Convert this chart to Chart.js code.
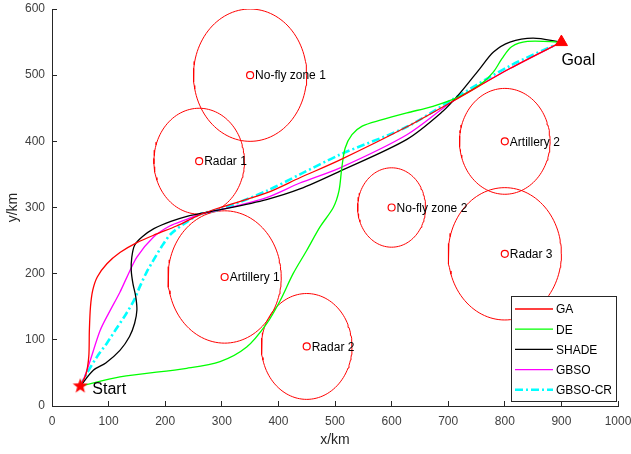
<!DOCTYPE html>
<html>
<head>
<meta charset="utf-8">
<script src="https://cdn.jsdelivr.net/npm/chart.js@4.4.1/dist/chart.umd.min.js"></script>
<style>
body { margin: 0; background: #fff; }
#wrap { width: 631px; height: 454px; }
</style>
</head>
<body>
<div id="wrap"><canvas id="path-chart"></canvas></div>
<script>
// threat areas: centre (km) and radius (km)
const threatNames = ['No-fly zone 1', 'Radar 1', 'Artillery 1', 'Radar 2', 'No-fly zone 2', 'Artillery 2', 'Radar 3']
const threatX = [350, 260, 305, 450, 600, 800, 800]
const threatY = [500, 370, 195, 90, 300, 400, 230]
const threatR = [100, 80, 100, 80, 60, 80, 100]

const startPoint = [50, 30]
const goalPoint = [900, 550]

const xTicks = [0, 100, 200, 300, 400, 500, 600, 700, 800, 900, 1000]
const yTicks = [0, 100, 200, 300, 400, 500, 600]

const seriesNames = ['GA', 'DE', 'SHADE', 'GBSO', 'GBSO-CR']

// planned paths as [x, y] km
const gaPath = [[50, 30], [60, 48], [65, 75], [66, 114], [68, 150], [72, 175], [80, 195], [97, 215], [120, 232],
	[150, 247], [185, 260], [220, 272], [261, 289], [297, 300], [379, 322], [438, 345], [509, 372],
	[627, 422], [709, 461], [809, 510], [900, 550]]
const dePath = [[50, 30], [120, 44], [238, 57], [297, 67], [344, 89], [379, 124], [403, 159], [426, 200],
	[450, 235], [473, 270], [497, 300], [507, 325], [512, 360], [518, 390], [530, 410], [548, 423],
	[580, 432], [627, 443], [673, 453], [721, 468], [760, 488], [780, 505], [795, 525], [812, 543],
	[840, 551], [900, 550]]
const shadePath = [[50, 30], [73, 54], [95, 65], [120, 84], [137, 105], [146, 125], [150, 145], [148, 165],
	[143, 185], [140, 205], [141, 225], [146, 243], [160, 256], [180, 268], [210, 279], [240, 287],
	[262, 291], [300, 297], [379, 312], [438, 328], [509, 355], [627, 403], [690, 445], [720, 472],
	[756, 510], [780, 535], [809, 550], [850, 556], [900, 550]]
const gbsoPath = [[50, 30], [58, 45], [68, 70], [85, 114], [100, 140], [120, 172], [132, 194], [150, 225],
	[179, 255], [208, 272], [238, 282], [262, 290], [300, 297], [379, 315], [438, 337], [509, 360],
	[627, 410], [709, 461], [809, 510], [900, 550]]
const gbsoCrPath = [[50, 30], [62, 50], [80, 75], [97, 95], [113, 116], [130, 138], [145, 160], [155, 180],
	[167, 202], [179, 220], [193, 240], [210, 260], [238, 278], [262, 290], [300, 298], [379, 325],
	[438, 350], [509, 380], [627, 422], [709, 464], [809, 514], [900, 550]]

const pathColors = ['#ff0000', '#00ff00', '#000000', '#ff00ff', '#00ffff']
const fontFamily = "'Liberation Sans', Arial, Helvetica, sans-serif"

const toPoints = path => path.map(p => ({x: p[0], y: p[1]}))

// outline of a threat circle from its centre and radius
const circlePoints = (cx, cy, r) => {
	const pts = []
	for (let i = 0; i <= 120; i++) {
		const a = i / 120 * 2 * Math.PI
		pts.push({x: cx + r * Math.cos(a), y: cy + r * Math.sin(a)})
	}
	return pts
}

// filled red star for the start point
const starImg = document.createElement('canvas')
starImg.width = 18
starImg.height = 18
const sctx = starImg.getContext('2d')
sctx.fillStyle = '#ff0000'
sctx.beginPath()
for (let i = 0; i < 10; i++) {
	const r = i % 2 === 0 ? 8 : 3.3
	const a = -Math.PI / 2 + i * Math.PI / 5
	sctx.lineTo(9 + r * Math.cos(a), 9 + r * Math.sin(a))
}
sctx.closePath()
sctx.fill()

const pathSets = [gaPath, dePath, shadePath, gbsoPath, gbsoCrPath].map((path, i) => ({
	label: seriesNames[i],
	data: toPoints(path),
	showLine: true,
	borderColor: pathColors[i],
	backgroundColor: pathColors[i],
	borderWidth: i === 4 ? 2.6 : 1.3,
	borderDash: i === 4 ? [8, 3, 2, 3] : [],
	pointRadius: 0,
	tension: 0.3,
	order: 0
}))

const circleSets = threatNames.map((name, i) => ({
	label: name,
	data: circlePoints(threatX[i], threatY[i], threatR[i]),
	showLine: true,
	borderColor: '#ff0000',
	borderWidth: 1,
	pointRadius: 0,
	tension: 0,
	order: 2
}))

const markerSets = [
	{
		label: 'centres',
		data: threatX.map((x, i) => ({x: x, y: threatY[i]})),
		pointStyle: 'circle',
		pointRadius: 3.5,
		borderColor: '#ff0000',
		backgroundColor: 'rgba(0,0,0,0)',
		borderWidth: 1.2,
		order: 1
	},
	{
		label: 'start',
		data: [{x: startPoint[0], y: startPoint[1]}],
		pointStyle: starImg,
		pointRadius: 8,
		order: -1
	},
	{
		label: 'goal',
		data: [{x: goalPoint[0], y: goalPoint[1]}],
		pointStyle: 'triangle',
		pointRadius: 7,
		borderColor: '#ff0000',
		backgroundColor: '#ff0000',
		order: -1
	}
]

/*
Text next to the threats, start and goal
*/
const labelPlugin = {
	id: 'mapLabels',
	afterDatasetsDraw(chart) {
		const ctx = chart.ctx
		const xs = chart.scales.x
		const ys = chart.scales.y
		ctx.save()
		ctx.fillStyle = '#000'
		ctx.textBaseline = 'middle'
		ctx.textAlign = 'left'
		ctx.font = '12px ' + fontFamily
		threatNames.forEach((name, i) => {
			ctx.fillText(name, xs.getPixelForValue(threatX[i]) + 5, ys.getPixelForValue(threatY[i]) + 1)
		})
		ctx.font = '16px ' + fontFamily
		ctx.fillText('Start', xs.getPixelForValue(startPoint[0]) + 12, ys.getPixelForValue(startPoint[1]) + 3)
		ctx.fillText('Goal', xs.getPixelForValue(goalPoint[0]), ys.getPixelForValue(goalPoint[1]) + 19)
		ctx.restore()
	}
}

/*
Boxed legend inside the lower right corner, like the MATLAB one
*/
const legendPlugin = {
	id: 'boxLegend',
	afterDraw(chart) {
		const ctx = chart.ctx
		const area = chart.chartArea
		const boxW = 105
		const boxH = 105
		const left = area.right - boxW - 2
		const top = area.bottom - boxH - 5
		ctx.save()
		ctx.fillStyle = '#fff'
		ctx.fillRect(left, top, boxW, boxH)
		ctx.strokeStyle = '#262626'
		ctx.lineWidth = 1
		ctx.strokeRect(left + 0.5, top + 0.5, boxW, boxH)
		ctx.font = '12px ' + fontFamily
		ctx.textBaseline = 'middle'
		ctx.textAlign = 'left'
		pathSets.forEach((ds, i) => {
			const y = top + 13 + i * 20.2
			ctx.strokeStyle = ds.borderColor
			ctx.lineWidth = ds.borderWidth
			ctx.setLineDash(ds.borderDash)
			ctx.beginPath()
			ctx.moveTo(left + 4, y)
			ctx.lineTo(left + 42, y)
			ctx.stroke()
			ctx.setLineDash([])
			ctx.fillStyle = '#000'
			ctx.fillText(ds.label, left + 45, y + 1)
		})
		ctx.restore()
	}
}

const pathCanvasCtx = document.getElementById('path-chart').getContext('2d')

const pathChart = new Chart(pathCanvasCtx, {
	type: 'scatter',
	data: {
		datasets: [...pathSets, ...circleSets, ...markerSets]
	},
	options: {
		responsive: true,
		maintainAspectRatio: false,
		animation: false,
		layout: {
			padding: {top: 7, right: 13, left: 0, bottom: 0}
		},
		plugins: {
			legend: {display: false},
			tooltip: {enabled: false}
		},
		scales: {
			x: {
				type: 'linear',
				min: 0,
				max: 1000,
				afterBuildTicks: scale => { scale.ticks = xTicks.map(v => ({value: v})) },
				afterFit: scale => {
					scale.height = 48
					scale.paddingLeft = 0
					scale.paddingRight = 0
				},
				grid: {drawOnChartArea: false, tickLength: -5, tickColor: '#262626'},
				border: {color: '#262626'},
				ticks: {padding: 13, color: '#404040', font: {size: 12, family: fontFamily}, maxRotation: 0, callback: v => String(v)},
				title: {display: true, text: 'x/km', color: '#262626', font: {size: 14, family: fontFamily}, padding: {top: 0, bottom: 5}}
			},
			y: {
				type: 'linear',
				min: 0,
				max: 600,
				afterBuildTicks: scale => { scale.ticks = yTicks.map(v => ({value: v})) },
				afterFit: scale => {
					scale.width = 52
					scale.paddingTop = 0
					scale.paddingBottom = 0
				},
				grid: {drawOnChartArea: false, tickLength: -5, tickColor: '#262626'},
				border: {color: '#262626'},
				ticks: {padding: 12, color: '#404040', font: {size: 12, family: fontFamily}, callback: v => String(v)},
				title: {display: true, text: 'y/km', color: '#262626', font: {size: 14, family: fontFamily}, padding: {top: 5, bottom: 0}}
			}
		}
	},
	plugins: [labelPlugin, legendPlugin]
})
</script>
</body>
</html>
